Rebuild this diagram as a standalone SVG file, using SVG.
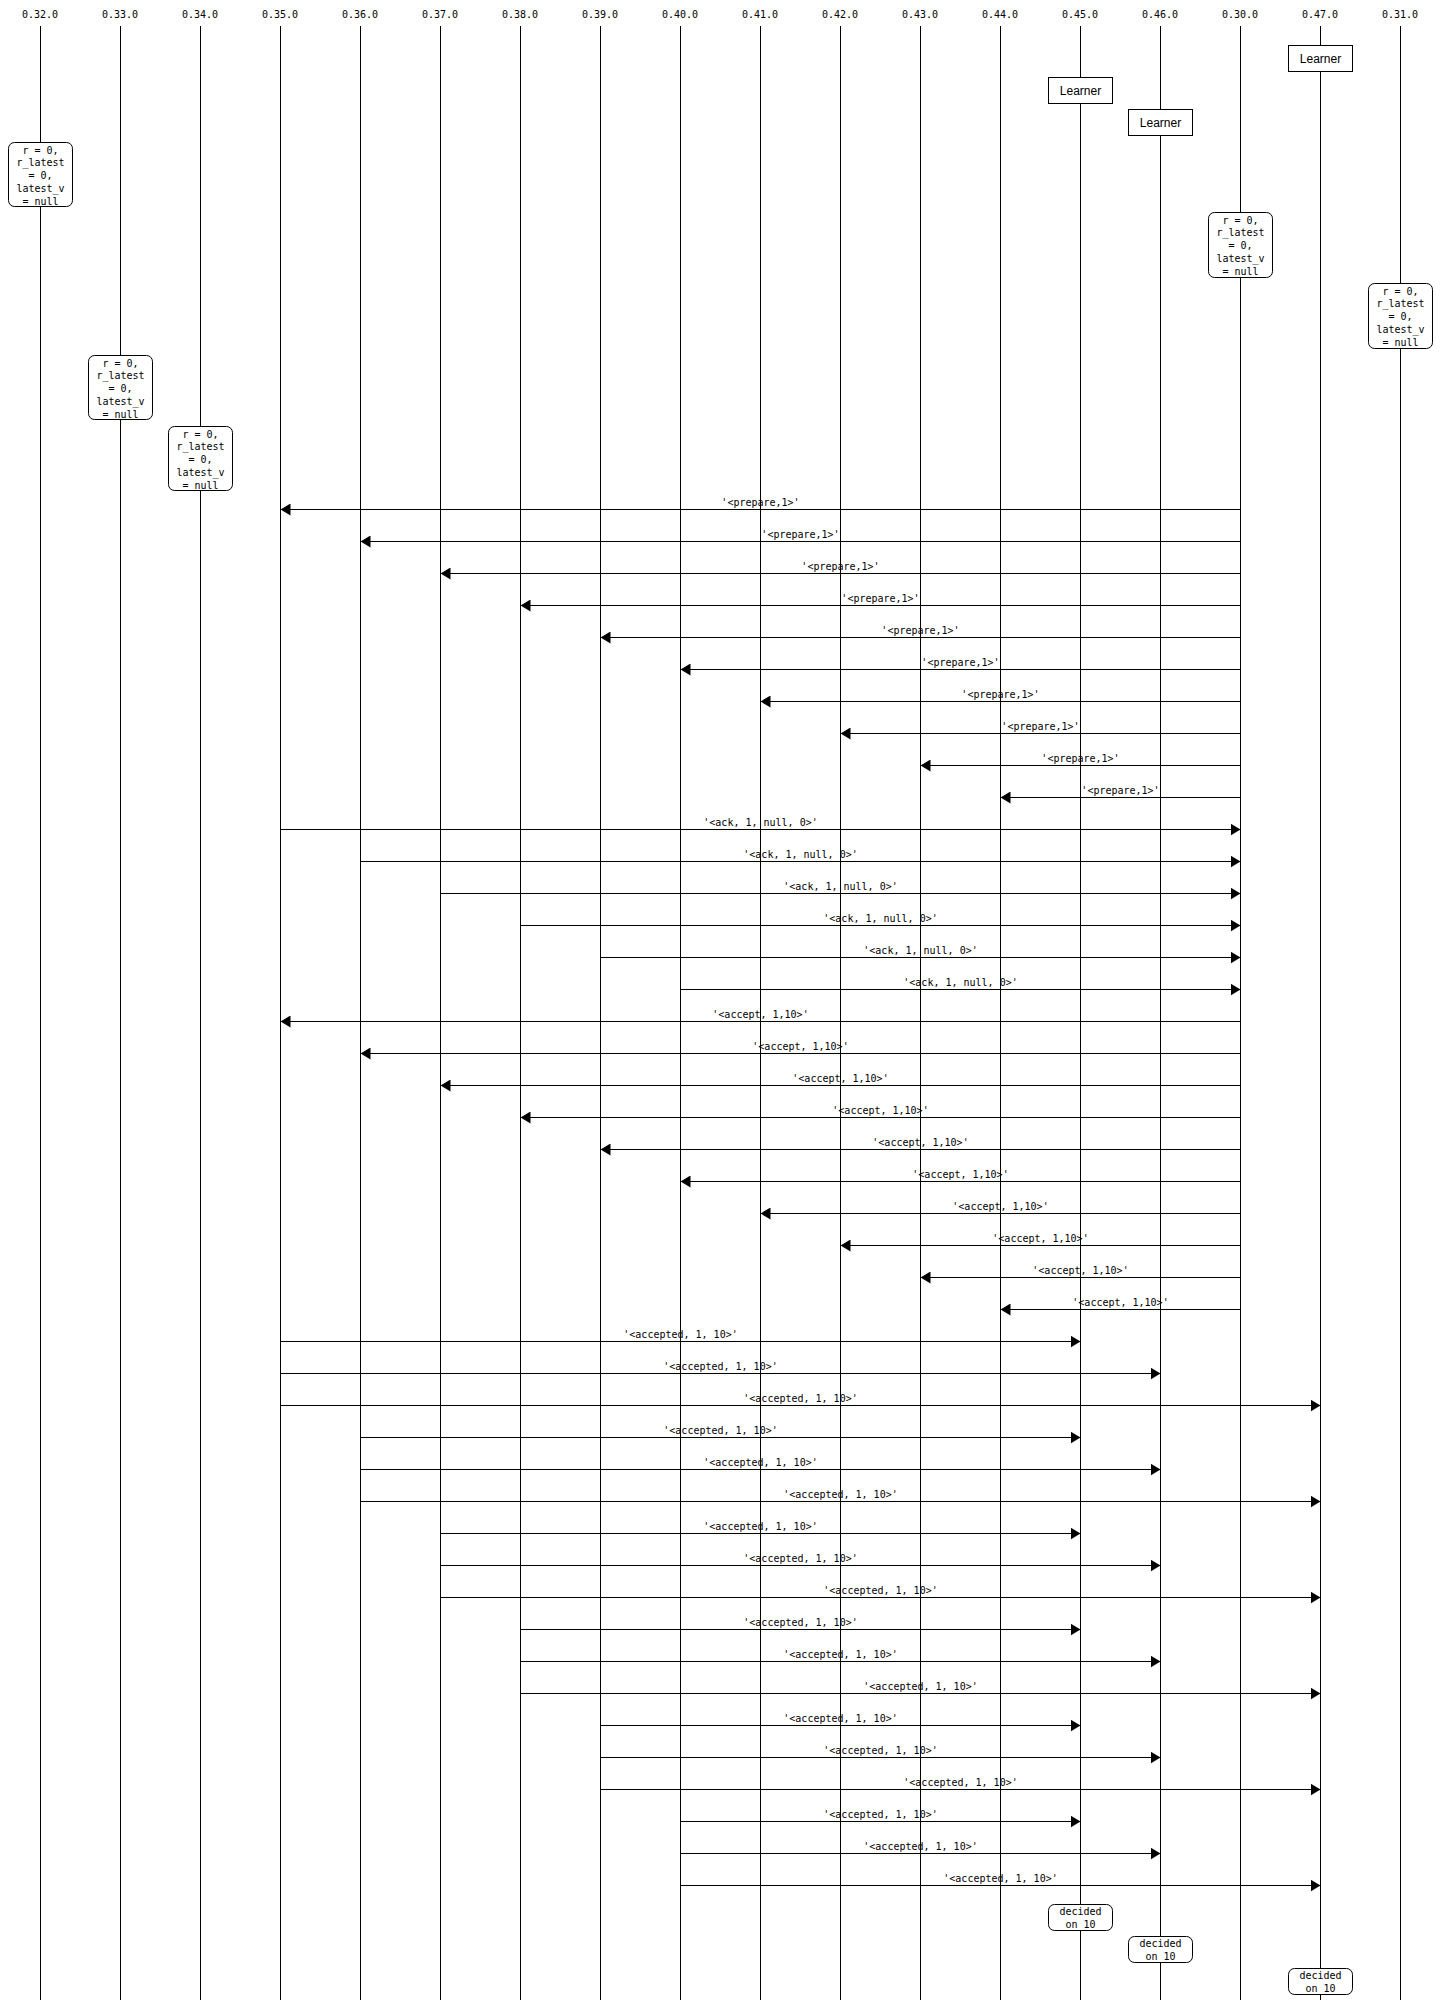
<svg xmlns="http://www.w3.org/2000/svg" width="1440" height="2000" viewBox="0 0 1440 2000">
<style>
.life{stroke:#000;stroke-width:1;fill:none}
.hdr{font-family:"DejaVu Sans Mono","Liberation Mono",monospace;font-size:10px;fill:#000;text-anchor:middle}
.mono{font-family:"DejaVu Sans Mono","Liberation Mono",monospace;font-size:10px;fill:#000;text-anchor:middle}
.lbl{font-family:"Liberation Sans",Arial,sans-serif;font-size:12px;fill:#000;text-anchor:middle}
.box{fill:#fff;stroke:#000;stroke-width:1}
.msg{stroke:#000;stroke-width:1;fill:none;marker-end:url(#ah)}
</style>
<defs>
<marker id="ah" markerUnits="userSpaceOnUse" markerWidth="10" markerHeight="12" refX="10" refY="6" orient="auto">
<path d="M0,0 L10,6 L0,12 z" fill="#000"/>
</marker>
</defs>
<rect width="1440" height="2000" fill="#fff"/>
<g id="lifelines">
<line class="life" x1="40.5" y1="26" x2="40.5" y2="2000"/>
<line class="life" x1="120.5" y1="26" x2="120.5" y2="2000"/>
<line class="life" x1="200.5" y1="26" x2="200.5" y2="2000"/>
<line class="life" x1="280.5" y1="26" x2="280.5" y2="2000"/>
<line class="life" x1="360.5" y1="26" x2="360.5" y2="2000"/>
<line class="life" x1="440.5" y1="26" x2="440.5" y2="2000"/>
<line class="life" x1="520.5" y1="26" x2="520.5" y2="2000"/>
<line class="life" x1="600.5" y1="26" x2="600.5" y2="2000"/>
<line class="life" x1="680.5" y1="26" x2="680.5" y2="2000"/>
<line class="life" x1="760.5" y1="26" x2="760.5" y2="2000"/>
<line class="life" x1="840.5" y1="26" x2="840.5" y2="2000"/>
<line class="life" x1="920.5" y1="26" x2="920.5" y2="2000"/>
<line class="life" x1="1000.5" y1="26" x2="1000.5" y2="2000"/>
<line class="life" x1="1080.5" y1="26" x2="1080.5" y2="2000"/>
<line class="life" x1="1160.5" y1="26" x2="1160.5" y2="2000"/>
<line class="life" x1="1240.5" y1="26" x2="1240.5" y2="2000"/>
<line class="life" x1="1320.5" y1="26" x2="1320.5" y2="2000"/>
<line class="life" x1="1400.5" y1="26" x2="1400.5" y2="2000"/>
</g>
<g id="headers">
<text class="hdr" x="40" y="18">0.32.0</text>
<text class="hdr" x="120" y="18">0.33.0</text>
<text class="hdr" x="200" y="18">0.34.0</text>
<text class="hdr" x="280" y="18">0.35.0</text>
<text class="hdr" x="360" y="18">0.36.0</text>
<text class="hdr" x="440" y="18">0.37.0</text>
<text class="hdr" x="520" y="18">0.38.0</text>
<text class="hdr" x="600" y="18">0.39.0</text>
<text class="hdr" x="680" y="18">0.40.0</text>
<text class="hdr" x="760" y="18">0.41.0</text>
<text class="hdr" x="840" y="18">0.42.0</text>
<text class="hdr" x="920" y="18">0.43.0</text>
<text class="hdr" x="1000" y="18">0.44.0</text>
<text class="hdr" x="1080" y="18">0.45.0</text>
<text class="hdr" x="1160" y="18">0.46.0</text>
<text class="hdr" x="1240" y="18">0.30.0</text>
<text class="hdr" x="1320" y="18">0.47.0</text>
<text class="hdr" x="1400" y="18">0.31.0</text>
</g>
<g id="learner-047"><rect class="box" x="1288.5" y="45.5" width="64" height="26"/><text class="lbl" x="1320.5" y="62.5">Learner</text></g>
<g id="learner-045"><rect class="box" x="1048.5" y="77.5" width="64" height="26"/><text class="lbl" x="1080.5" y="94.5">Learner</text></g>
<g id="learner-046"><rect class="box" x="1128.5" y="109.5" width="64" height="26"/><text class="lbl" x="1160.5" y="126.5">Learner</text></g>
<g id="state-032"><rect class="box" x="8.5" y="142.5" width="64" height="64" rx="6"/><text class="mono" x="40.5"><tspan x="40.5" y="153.5">r = 0,</tspan><tspan x="40.5" y="166.4">r_latest</tspan><tspan x="40.5" y="179.3">= 0,</tspan><tspan x="40.5" y="192.2">latest_v</tspan><tspan x="40.5" y="205">= null</tspan></text></g>
<g id="state-030"><rect class="box" x="1208.5" y="212.5" width="64" height="65" rx="6"/><text class="mono" x="1240.5"><tspan x="1240.5" y="223.5">r = 0,</tspan><tspan x="1240.5" y="236.4">r_latest</tspan><tspan x="1240.5" y="249.3">= 0,</tspan><tspan x="1240.5" y="262.2">latest_v</tspan><tspan x="1240.5" y="275">= null</tspan></text></g>
<g id="state-031"><rect class="box" x="1368.5" y="283.5" width="64" height="65" rx="6"/><text class="mono" x="1400.5"><tspan x="1400.5" y="294.5">r = 0,</tspan><tspan x="1400.5" y="307.4">r_latest</tspan><tspan x="1400.5" y="320.3">= 0,</tspan><tspan x="1400.5" y="333.2">latest_v</tspan><tspan x="1400.5" y="346">= null</tspan></text></g>
<g id="state-033"><rect class="box" x="88.5" y="355.5" width="64" height="64" rx="6"/><text class="mono" x="120.5"><tspan x="120.5" y="366.5">r = 0,</tspan><tspan x="120.5" y="379.4">r_latest</tspan><tspan x="120.5" y="392.3">= 0,</tspan><tspan x="120.5" y="405.2">latest_v</tspan><tspan x="120.5" y="418">= null</tspan></text></g>
<g id="state-034"><rect class="box" x="168.5" y="426.5" width="64" height="64" rx="6"/><text class="mono" x="200.5"><tspan x="200.5" y="437.5">r = 0,</tspan><tspan x="200.5" y="450.4">r_latest</tspan><tspan x="200.5" y="463.3">= 0,</tspan><tspan x="200.5" y="476.2">latest_v</tspan><tspan x="200.5" y="489">= null</tspan></text></g>
<g id="connectors">
<line class="msg" x1="1240.5" y1="509.5" x2="280.5" y2="509.5"/><text class="mono" x="760.5" y="505.5">'&lt;prepare,1&gt;'</text>
<line class="msg" x1="1240.5" y1="541.5" x2="360.5" y2="541.5"/><text class="mono" x="800.5" y="537.5">'&lt;prepare,1&gt;'</text>
<line class="msg" x1="1240.5" y1="573.5" x2="440.5" y2="573.5"/><text class="mono" x="840.5" y="569.5">'&lt;prepare,1&gt;'</text>
<line class="msg" x1="1240.5" y1="605.5" x2="520.5" y2="605.5"/><text class="mono" x="880.5" y="601.5">'&lt;prepare,1&gt;'</text>
<line class="msg" x1="1240.5" y1="637.5" x2="600.5" y2="637.5"/><text class="mono" x="920.5" y="633.5">'&lt;prepare,1&gt;'</text>
<line class="msg" x1="1240.5" y1="669.5" x2="680.5" y2="669.5"/><text class="mono" x="960.5" y="665.5">'&lt;prepare,1&gt;'</text>
<line class="msg" x1="1240.5" y1="701.5" x2="760.5" y2="701.5"/><text class="mono" x="1000.5" y="697.5">'&lt;prepare,1&gt;'</text>
<line class="msg" x1="1240.5" y1="733.5" x2="840.5" y2="733.5"/><text class="mono" x="1040.5" y="729.5">'&lt;prepare,1&gt;'</text>
<line class="msg" x1="1240.5" y1="765.5" x2="920.5" y2="765.5"/><text class="mono" x="1080.5" y="761.5">'&lt;prepare,1&gt;'</text>
<line class="msg" x1="1240.5" y1="797.5" x2="1000.5" y2="797.5"/><text class="mono" x="1120.5" y="793.5">'&lt;prepare,1&gt;'</text>
<line class="msg" x1="280.5" y1="829.5" x2="1240.5" y2="829.5"/><text class="mono" x="760.5" y="825.5">'&lt;ack, 1, null, 0&gt;'</text>
<line class="msg" x1="360.5" y1="861.5" x2="1240.5" y2="861.5"/><text class="mono" x="800.5" y="857.5">'&lt;ack, 1, null, 0&gt;'</text>
<line class="msg" x1="440.5" y1="893.5" x2="1240.5" y2="893.5"/><text class="mono" x="840.5" y="889.5">'&lt;ack, 1, null, 0&gt;'</text>
<line class="msg" x1="520.5" y1="925.5" x2="1240.5" y2="925.5"/><text class="mono" x="880.5" y="921.5">'&lt;ack, 1, null, 0&gt;'</text>
<line class="msg" x1="600.5" y1="957.5" x2="1240.5" y2="957.5"/><text class="mono" x="920.5" y="953.5">'&lt;ack, 1, null, 0&gt;'</text>
<line class="msg" x1="680.5" y1="989.5" x2="1240.5" y2="989.5"/><text class="mono" x="960.5" y="985.5">'&lt;ack, 1, null, 0&gt;'</text>
<line class="msg" x1="1240.5" y1="1021.5" x2="280.5" y2="1021.5"/><text class="mono" x="760.5" y="1017.5">'&lt;accept, 1,10&gt;'</text>
<line class="msg" x1="1240.5" y1="1053.5" x2="360.5" y2="1053.5"/><text class="mono" x="800.5" y="1049.5">'&lt;accept, 1,10&gt;'</text>
<line class="msg" x1="1240.5" y1="1085.5" x2="440.5" y2="1085.5"/><text class="mono" x="840.5" y="1081.5">'&lt;accept, 1,10&gt;'</text>
<line class="msg" x1="1240.5" y1="1117.5" x2="520.5" y2="1117.5"/><text class="mono" x="880.5" y="1113.5">'&lt;accept, 1,10&gt;'</text>
<line class="msg" x1="1240.5" y1="1149.5" x2="600.5" y2="1149.5"/><text class="mono" x="920.5" y="1145.5">'&lt;accept, 1,10&gt;'</text>
<line class="msg" x1="1240.5" y1="1181.5" x2="680.5" y2="1181.5"/><text class="mono" x="960.5" y="1177.5">'&lt;accept, 1,10&gt;'</text>
<line class="msg" x1="1240.5" y1="1213.5" x2="760.5" y2="1213.5"/><text class="mono" x="1000.5" y="1209.5">'&lt;accept, 1,10&gt;'</text>
<line class="msg" x1="1240.5" y1="1245.5" x2="840.5" y2="1245.5"/><text class="mono" x="1040.5" y="1241.5">'&lt;accept, 1,10&gt;'</text>
<line class="msg" x1="1240.5" y1="1277.5" x2="920.5" y2="1277.5"/><text class="mono" x="1080.5" y="1273.5">'&lt;accept, 1,10&gt;'</text>
<line class="msg" x1="1240.5" y1="1309.5" x2="1000.5" y2="1309.5"/><text class="mono" x="1120.5" y="1305.5">'&lt;accept, 1,10&gt;'</text>
<line class="msg" x1="280.5" y1="1341.5" x2="1080.5" y2="1341.5"/><text class="mono" x="680.5" y="1337.5">'&lt;accepted, 1, 10&gt;'</text>
<line class="msg" x1="280.5" y1="1373.5" x2="1160.5" y2="1373.5"/><text class="mono" x="720.5" y="1369.5">'&lt;accepted, 1, 10&gt;'</text>
<line class="msg" x1="280.5" y1="1405.5" x2="1320.5" y2="1405.5"/><text class="mono" x="800.5" y="1401.5">'&lt;accepted, 1, 10&gt;'</text>
<line class="msg" x1="360.5" y1="1437.5" x2="1080.5" y2="1437.5"/><text class="mono" x="720.5" y="1433.5">'&lt;accepted, 1, 10&gt;'</text>
<line class="msg" x1="360.5" y1="1469.5" x2="1160.5" y2="1469.5"/><text class="mono" x="760.5" y="1465.5">'&lt;accepted, 1, 10&gt;'</text>
<line class="msg" x1="360.5" y1="1501.5" x2="1320.5" y2="1501.5"/><text class="mono" x="840.5" y="1497.5">'&lt;accepted, 1, 10&gt;'</text>
<line class="msg" x1="440.5" y1="1533.5" x2="1080.5" y2="1533.5"/><text class="mono" x="760.5" y="1529.5">'&lt;accepted, 1, 10&gt;'</text>
<line class="msg" x1="440.5" y1="1565.5" x2="1160.5" y2="1565.5"/><text class="mono" x="800.5" y="1561.5">'&lt;accepted, 1, 10&gt;'</text>
<line class="msg" x1="440.5" y1="1597.5" x2="1320.5" y2="1597.5"/><text class="mono" x="880.5" y="1593.5">'&lt;accepted, 1, 10&gt;'</text>
<line class="msg" x1="520.5" y1="1629.5" x2="1080.5" y2="1629.5"/><text class="mono" x="800.5" y="1625.5">'&lt;accepted, 1, 10&gt;'</text>
<line class="msg" x1="520.5" y1="1661.5" x2="1160.5" y2="1661.5"/><text class="mono" x="840.5" y="1657.5">'&lt;accepted, 1, 10&gt;'</text>
<line class="msg" x1="520.5" y1="1693.5" x2="1320.5" y2="1693.5"/><text class="mono" x="920.5" y="1689.5">'&lt;accepted, 1, 10&gt;'</text>
<line class="msg" x1="600.5" y1="1725.5" x2="1080.5" y2="1725.5"/><text class="mono" x="840.5" y="1721.5">'&lt;accepted, 1, 10&gt;'</text>
<line class="msg" x1="600.5" y1="1757.5" x2="1160.5" y2="1757.5"/><text class="mono" x="880.5" y="1753.5">'&lt;accepted, 1, 10&gt;'</text>
<line class="msg" x1="600.5" y1="1789.5" x2="1320.5" y2="1789.5"/><text class="mono" x="960.5" y="1785.5">'&lt;accepted, 1, 10&gt;'</text>
<line class="msg" x1="680.5" y1="1821.5" x2="1080.5" y2="1821.5"/><text class="mono" x="880.5" y="1817.5">'&lt;accepted, 1, 10&gt;'</text>
<line class="msg" x1="680.5" y1="1853.5" x2="1160.5" y2="1853.5"/><text class="mono" x="920.5" y="1849.5">'&lt;accepted, 1, 10&gt;'</text>
<line class="msg" x1="680.5" y1="1885.5" x2="1320.5" y2="1885.5"/><text class="mono" x="1000.5" y="1881.5">'&lt;accepted, 1, 10&gt;'</text>
</g>
<g id="decided-045"><rect class="box" x="1048.5" y="1904.5" width="64" height="26" rx="6"/><text class="mono" x="1080.5"><tspan x="1080.5" y="1915">decided</tspan><tspan x="1080.5" y="1928">on 10</tspan></text></g>
<g id="decided-046"><rect class="box" x="1128.5" y="1936.5" width="64" height="26" rx="6"/><text class="mono" x="1160.5"><tspan x="1160.5" y="1947">decided</tspan><tspan x="1160.5" y="1960">on 10</tspan></text></g>
<g id="decided-047"><rect class="box" x="1288.5" y="1968.5" width="64" height="26" rx="6"/><text class="mono" x="1320.5"><tspan x="1320.5" y="1979">decided</tspan><tspan x="1320.5" y="1992">on 10</tspan></text></g>
</svg>
